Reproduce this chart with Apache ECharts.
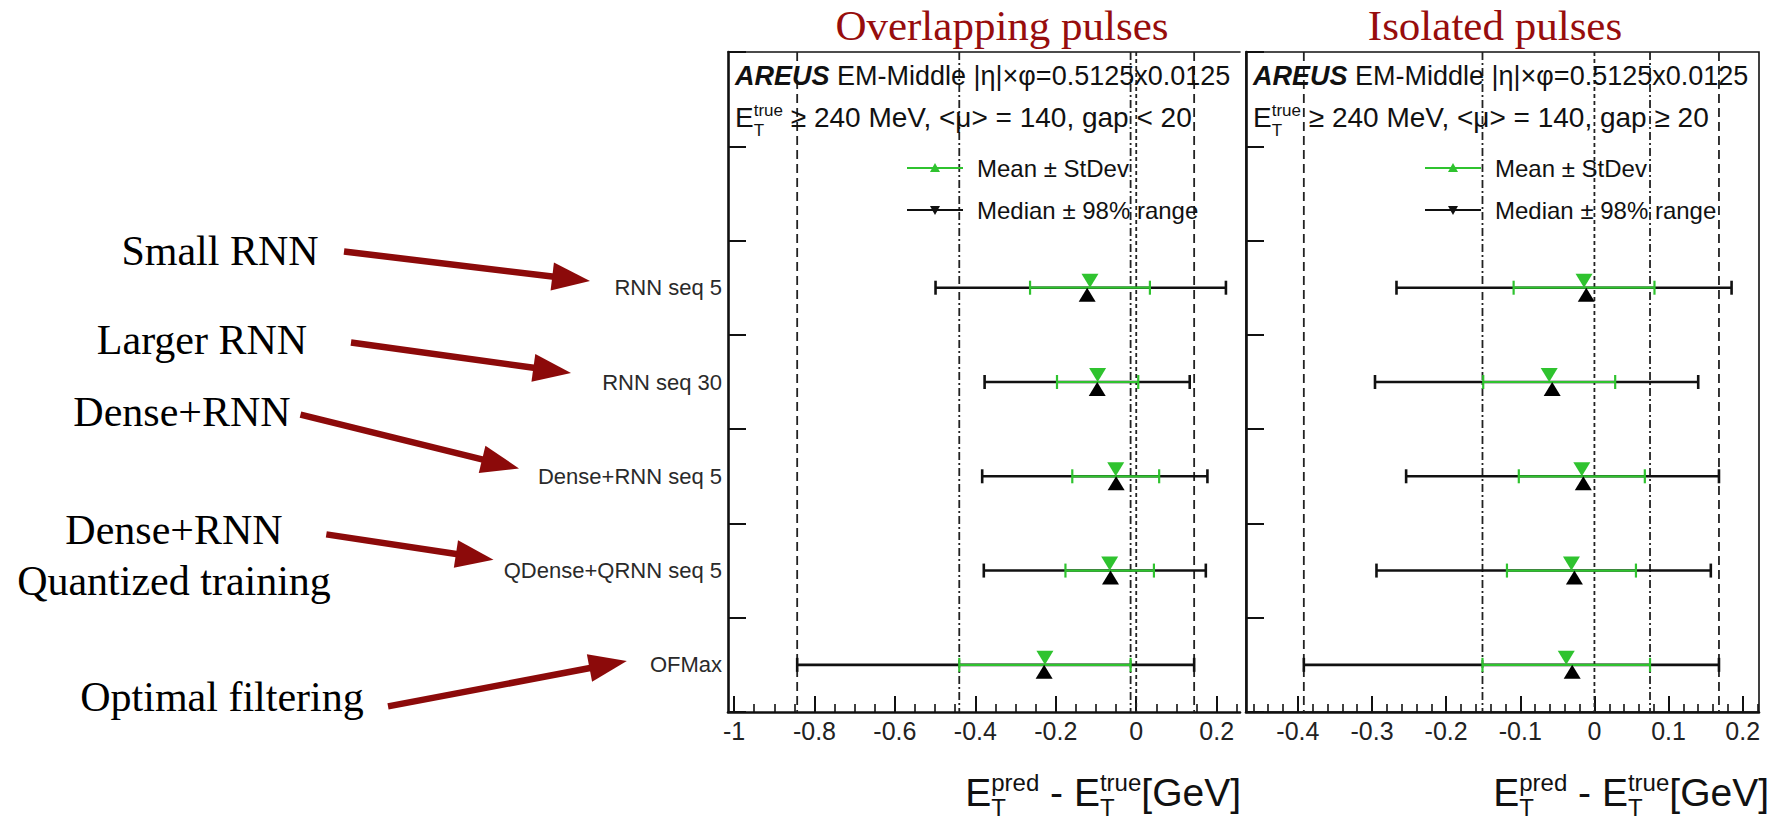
<!DOCTYPE html>
<html>
<head>
<meta charset="utf-8">
<script src="https://cdn.jsdelivr.net/npm/echarts@6/dist/echarts.min.js"></script>
<style>
  html, body { margin: 0; padding: 0; background: #ffffff; }
  #chart { width: 1772px; height: 822px; }
</style>
</head>
<body>
<div id="chart"></div>
<script>
// Rows from top to bottom; the two top rows carry the header text and legend.
const rowLabels = ['', '', 'RNN seq 5', 'RNN seq 30', 'Dense+RNN seq 5', 'QDense+QRNN seq 5', 'OFMax'];
const models = ['RNN seq 5', 'RNN seq 30', 'Dense+RNN seq 5', 'QDense+QRNN seq 5', 'OFMax'];

// Overlapping pulses (gap < 20): E_T(pred) - E_T(true) in GeV
const overlapMean   = [-0.115, -0.096, -0.051, -0.066, -0.227];
const overlapStd    = [0.149, 0.101, 0.108, 0.110, 0.213];
const overlapMedian = [-0.122, -0.097, -0.050, -0.064, -0.229];
const overlapQ01    = [-0.499, -0.377, -0.383, -0.379, -0.843];
const overlapQ99    = [0.223, 0.133, 0.177, 0.173, 0.144];

// Isolated pulses (gap >= 20)
const isoMean   = [-0.014, -0.061, -0.017, -0.031, -0.038];
const isoStd    = [0.095, 0.089, 0.085, 0.087, 0.113];
const isoMedian = [-0.011, -0.057, -0.015, -0.027, -0.030];
const isoQ01    = [-0.267, -0.296, -0.254, -0.294, -0.392];
const isoQ99    = [0.185, 0.140, 0.168, 0.157, 0.168];

// Axis tick labels
const overlapTicks = [-1, -0.8, -0.6, -0.4, -0.2, 0, 0.2];
const isoTicks = [-0.4, -0.3, -0.2, -0.1, 0, 0.1, 0.2];

// Side notes describing each model
const notes = [
  { lines: ['Small RNN'], cx: 220, cy: [251], tail: [344, 251.5], tip: [590, 281] },
  { lines: ['Larger RNN'], cx: 202, cy: [340], tail: [351, 342.5], tip: [571, 373] },
  { lines: ['Dense+RNN'], cx: 182, cy: [412], tail: [300.5, 414.7], tip: [519, 468.4] },
  { lines: ['Dense+RNN', 'Quantized training'], cx: 174, cy: [529.5, 581], tail: [326.3, 534.4], tip: [493.5, 559.7] },
  { lines: ['Optimal filtering'], cx: 222, cy: [697], tail: [388, 706.4], tip: [626.8, 661] }
];

const SANS = "'Liberation Sans', Arial, Helvetica, sans-serif";
const SERIF = "'Liberation Serif', 'Times New Roman', Times, serif";
const GREEN = '#2fc32f';
const INK = '#111111';
const DARKRED = '#970d0d';

function minorTicks(min, max, step, majors) {
  const out = [];
  const start = Math.ceil(min / step - 1e-9);
  const end = Math.floor(max / step + 1e-9);
  for (let k = start; k <= end; k++) {
    const v = +(k * step).toFixed(4);
    if (!majors.some(m => Math.abs(m - v) < 1e-9)) out.push(v);
  }
  return out;
}

const panels = [
  {
    title: 'Overlapping pulses', gapText: ' \u2265 240 MeV, <\u03bc> = 140, gap < 20',
    mean: overlapMean, std: overlapStd, median: overlapMedian, q01: overlapQ01, q99: overlapQ99,
    min: -1.015, max: 0.258, ticks: overlapTicks, minorStep: 0.05,
    box: { left: 728, top: 52, width: 512, height: 660 }, closed: false, titleX: 1002, axisTitleRight: 1241
  },
  {
    title: 'Isolated pulses', gapText: ' \u2265 240 MeV, <\u03bc> = 140, gap \u2265 20',
    mean: isoMean, std: isoStd, median: isoMedian, q01: isoQ01, q99: isoQ99,
    min: -0.47, max: 0.222, ticks: isoTicks, minorStep: 0.02,
    box: { left: 1246, top: 52, width: 513, height: 660 }, closed: true, titleX: 1495, axisTitleRight: 1769
  }
];

// ---- text helpers (sub/superscript runs) ----
const measureCtx = document.createElement('canvas').getContext('2d');
function fontStr(p) {
  return (p.style || 'normal') + ' ' + (p.weight || 'normal') + ' ' + p.size + 'px ' + (p.family || SANS);
}
function textWidth(p) { measureCtx.font = fontStr(p); return measureCtx.measureText(p.t).width; }
function textEl(x, yMid, p, align) {
  return {
    type: 'text', x: x, y: yMid, z: 50,
    style: {
      text: p.t, fontSize: p.size, fontFamily: p.family || SANS,
      fontWeight: p.weight || 'normal', fontStyle: p.style || 'normal',
      fill: p.color || INK,
      align: align || 'left', textAlign: align || 'left',
      verticalAlign: 'middle', textVerticalAlign: 'middle'
    }
  };
}
// Lays out text pieces on a common baseline; "stack" puts a piece under the previous one.
function textRun(x0, base, parts, align) {
  const widths = parts.map(textWidth);
  const pos = [];
  let x = 0, lastX = 0, lastW = 0;
  parts.forEach((p, i) => {
    if (p.stack) { pos.push(lastX); lastW = Math.max(lastW, widths[i]); x = lastX + lastW; }
    else { pos.push(x); lastX = x; lastW = widths[i]; x += widths[i]; }
  });
  const start = align === 'right' ? x0 - x : x0;
  return parts.map((p, i) => {
    const b = base - (p.rise || 0);
    return textEl(start + pos[i], b - 0.35 * p.size, p, 'left');
  });
}

// ---- graphic overlay: titles, headers, legends, axis titles, notes ----
const graphics = [];
panels.forEach(pn => {
  const px = pn.box.left;
  graphics.push(textEl(pn.titleX, 25, { t: pn.title, size: 43, family: SERIF, color: DARKRED }, 'center'));
  graphics.push(...textRun(px + 7, 85, [
    { t: 'AREUS', size: 27, weight: 'bold', style: 'italic' },
    { t: ' EM-Middle |\u03b7|\u00d7\u03c6=0.5125x0.0125', size: 27 }
  ]));
  graphics.push(...textRun(px + 7, 127, [
    { t: 'E', size: 28 },
    { t: 'true', size: 17, rise: 11 },
    { t: 'T', size: 17, rise: -9, stack: true },
    { t: pn.gapText, size: 28 }
  ]));
  // legend rows
  [[168, GREEN, true, 'Mean \u00b1 StDev'], [210, INK, false, 'Median \u00b1 98% range']].forEach(r => {
    const y = r[0], x0 = px + 179, x1 = px + 235, xm = (x0 + x1) / 2;
    const tri = r[2] ? [[xm - 5, y + 4], [xm + 5, y + 4], [xm, y - 5]] : [[xm - 5, y - 4], [xm + 5, y - 4], [xm, y + 5]];
    graphics.push({ type: 'line', z: 50, shape: { x1: x0, y1: y, x2: x1, y2: y }, style: { stroke: r[1], lineWidth: 2 } });
    graphics.push({ type: 'polygon', z: 51, shape: { points: tri }, style: { fill: r[1] } });
    graphics.push(textEl(px + 249, y, { t: r[3], size: 24 }, 'left'));
  });
  // x-axis title
  graphics.push(...textRun(pn.axisTitleRight, 806, [
    { t: 'E', size: 39 },
    { t: 'pred', size: 24, rise: 15 },
    { t: 'T', size: 24, rise: -10, stack: true },
    { t: ' - E', size: 39 },
    { t: 'true', size: 24, rise: 15 },
    { t: 'T', size: 24, rise: -10, stack: true },
    { t: '[GeV]', size: 39 }
  ], 'right'));
});

notes.forEach(n => {
  n.lines.forEach((line, i) => {
    graphics.push(textEl(n.cx, n.cy[i], { t: line, size: 42, family: SERIF, color: '#000' }, 'center'));
  });
  const dx = n.tip[0] - n.tail[0], dy = n.tip[1] - n.tail[1];
  const len = Math.hypot(dx, dy), ux = dx / len, uy = dy / len;
  const headLen = 38, halfW = 14;
  const bx = n.tip[0] - ux * headLen, by = n.tip[1] - uy * headLen;
  graphics.push({ type: 'line', z: 40, shape: { x1: n.tail[0], y1: n.tail[1], x2: bx + ux * 2, y2: by + uy * 2 },
    style: { stroke: '#8c0a0a', lineWidth: 6.5 } });
  graphics.push({ type: 'polygon', z: 41, shape: { points: [
    [n.tip[0], n.tip[1]], [bx - uy * halfW, by + ux * halfW], [bx + uy * halfW, by - ux * halfW]
  ] }, style: { fill: '#8c0a0a' } });
});

// ---- axes and series ----
const grids = [], xAxes = [], yAxes = [], series = [];
const refDash = [[9, 5], [8, 3, 2, 3], [4, 3]];

function errBar(color, lw, cap) {
  return function (params, api) {
    const y = api.value(0);
    const a = api.coord([api.value(1), y]);
    const b = api.coord([api.value(2), y]);
    const st = { stroke: color, lineWidth: lw };
    return {
      type: 'group', children: [
        { type: 'line', shape: { x1: a[0], y1: a[1], x2: b[0], y2: b[1] }, style: st },
        { type: 'line', shape: { x1: a[0], y1: a[1] - cap, x2: a[0], y2: a[1] + cap }, style: st },
        { type: 'line', shape: { x1: b[0], y1: b[1] - cap, x2: b[0], y2: b[1] + cap }, style: st }
      ]
    };
  };
}

panels.forEach((pn, gi) => {
  grids.push(Object.assign({}, pn.box, {
    show: pn.closed, borderColor: INK, borderWidth: 1.6, backgroundColor: 'transparent', containLabel: false
  }));
  const fmt = v => String(+(+v).toFixed(2));
  xAxes.push({
    gridIndex: gi, type: 'value', min: pn.min, max: pn.max, position: 'bottom',
    axisLine: { show: true, onZero: false, lineStyle: { color: INK, width: 2.6 } },
    axisTick: { show: true, inside: true, length: 16, customValues: pn.ticks, lineStyle: { color: INK, width: 2 } },
    axisLabel: { show: true, customValues: pn.ticks, formatter: fmt, fontSize: 25, fontFamily: SANS, color: '#222', margin: 6 },
    splitLine: { show: false }
  });
  xAxes.push({
    gridIndex: gi, type: 'value', min: pn.min, max: pn.max, position: 'bottom',
    axisLine: { show: false, onZero: false },
    axisTick: { show: true, inside: true, length: 8,
      customValues: minorTicks(pn.min, pn.max, pn.minorStep, pn.ticks), lineStyle: { color: INK, width: 1.6 } },
    axisLabel: { show: false }, splitLine: { show: false }
  });
  xAxes.push({
    gridIndex: gi, type: 'value', min: pn.min, max: pn.max, position: 'top',
    axisLine: { show: !pn.closed, onZero: false, lineStyle: { color: INK, width: 1.6 } },
    axisTick: { show: false }, axisLabel: { show: false }, splitLine: { show: false }
  });
  yAxes.push({
    gridIndex: gi, type: 'category', data: rowLabels, inverse: true,
    axisLine: { show: true, onZero: false, lineStyle: { color: INK, width: 2.6 } },
    axisTick: { show: true, inside: true, length: 18, lineStyle: { color: INK, width: 2 } },
    axisLabel: { show: gi === 0, fontSize: 22, fontFamily: SANS, color: '#2a2a2a', margin: 6 },
    splitLine: { show: false }
  });
  const xi = gi * 3, yi = gi;
  const last = models.length - 1;
  // reference lines taken from the OFMax row
  const refData = [
    [pn.q01[last], 0, 0], [pn.q99[last], 0, 0],
    [pn.mean[last] - pn.std[last], 0, 1], [pn.mean[last] + pn.std[last], 0, 1],
    [0, 0, 2]
  ];
  series.push({
    type: 'custom', xAxisIndex: xi, yAxisIndex: yi, z: 1, silent: true,
    encode: { x: 0, y: 1 }, data: refData,
    renderItem: function (params, api) {
      const x = api.coord([api.value(0), 0])[0];
      const cs = params.coordSys;
      return { type: 'line', shape: { x1: x, y1: cs.y, x2: x, y2: cs.y + cs.height },
        style: { stroke: '#222', lineWidth: 1.8, lineDash: refDash[api.value(2)] } };
    }
  });
  const rows = models.map(m => rowLabels.indexOf(m));
  series.push({
    name: 'Median \u00b1 98% range', type: 'custom', xAxisIndex: xi, yAxisIndex: yi, z: 3,
    encode: { y: 0, x: [1, 2] },
    data: rows.map((r, i) => [r, pn.q01[i], pn.q99[i]]),
    renderItem: errBar(INK, 2.6, 7)
  });
  series.push({
    name: 'Mean \u00b1 StDev', type: 'custom', xAxisIndex: xi, yAxisIndex: yi, z: 4,
    encode: { y: 0, x: [1, 2] },
    data: rows.map((r, i) => [r, pn.mean[i] - pn.std[i], pn.mean[i] + pn.std[i]]),
    renderItem: errBar(GREEN, 2.2, 7)
  });
  series.push({
    name: 'Mean', type: 'scatter', xAxisIndex: xi, yAxisIndex: yi, z: 5,
    symbol: 'path://M0 0L16 0L8 14Z', symbolSize: [17, 14], symbolOffset: [0, -7],
    itemStyle: { color: GREEN, opacity: 1 },
    data: rows.map((r, i) => [pn.mean[i], r])
  });
  series.push({
    name: 'Median', type: 'scatter', xAxisIndex: xi, yAxisIndex: yi, z: 6,
    symbol: 'path://M8 0L16 14L0 14Z', symbolSize: [17, 14], symbolOffset: [0, 7],
    itemStyle: { color: '#000', opacity: 1 },
    data: rows.map((r, i) => [pn.median[i], r])
  });
});

const chart = echarts.init(document.getElementById('chart'), null, { renderer: 'svg' });
chart.setOption({
  animation: false,
  backgroundColor: '#ffffff',
  grid: grids,
  xAxis: xAxes,
  yAxis: yAxes,
  series: series,
  graphic: { elements: graphics }
});
</script>
</body>
</html>
